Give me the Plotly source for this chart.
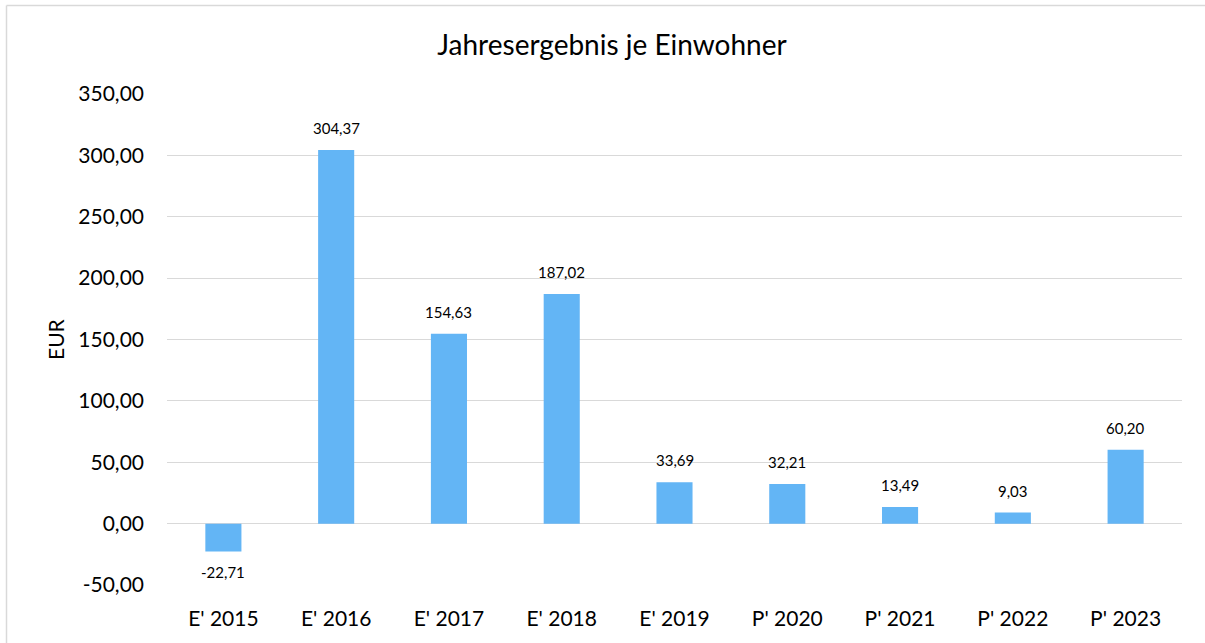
import plotly.graph_objects as go

categories = ["E' 2015", "E' 2016", "E' 2017", "E' 2018", "E' 2019", "P' 2020", "P' 2021", "P' 2022", "P' 2023"]
values = [-22.71, 304.37, 154.63, 187.02, 33.69, 32.21, 13.49, 9.03, 60.20]
tick_vals = [-50, 0, 50, 100, 150, 200, 250, 300, 350]
tick_text = ["-50,00", "0,00", "50,00", "100,00", "150,00", "200,00", "250,00", "300,00", "350,00"]

W, H = 1205, 643
# plot area in page pixels: x 167..1182, y 94..585
L, T = 167, 94
R = W - 1182
B = H - 585
pw = W - L - R
ph = H - T - B

font = "Lato, Carlito, 'Open Sans', sans-serif"

fig = go.Figure(go.Bar(
    x=categories, y=values,
    marker=dict(color="#63B5F5", line=dict(width=0)),
    width=0.32,
    cliponaxis=False,
    hoverinfo="x+y",
))

def fx(p):  # page px -> paper x
    return (p - L) / pw

def fy(p):  # page px -> paper y
    return (H - B - p) / ph

label_anns = [
    dict(x=c, y=v, xref="x", yref="y", text=f"{v:.2f}".replace(".", ","),
         showarrow=False, xanchor="center", yanchor="middle",
         yshift=22 if v >= 0 else -20, font=dict(size=15, color="#000000"))
    for c, v in zip(categories, values)
]

fig.update_layout(
    width=W, height=H,
    margin=dict(l=L, r=R, t=T, b=B),
    paper_bgcolor="white", plot_bgcolor="white",
    font=dict(family=font, color="#000000"),
    title=dict(text="Jahresergebnis je Einwohner", x=fx(612), xanchor="center",
               xref="paper", y=1 - 45 / H, yanchor="middle",
               font=dict(size=28, family=font)),
    showlegend=False,
    xaxis=dict(showgrid=False, showline=False, ticks="", tickfont=dict(size=21),
               ticklabelstandoff=19, fixedrange=True),
    yaxis=dict(range=[-50, 350], tickvals=tick_vals, ticktext=tick_text,
               showgrid=True, gridcolor="#D9D9D9", gridwidth=1.3,
               zeroline=True, zerolinecolor="#D9D9D9", zerolinewidth=1.3,
               showline=False, ticks="", tickfont=dict(size=21), ticklabelstandoff=22,
               fixedrange=True),
    annotations=label_anns + [
        dict(text="EUR", xref="paper", yref="paper",
             x=fx(55), y=fy(339), textangle=-90, showarrow=False,
             xanchor="center", yanchor="middle", font=dict(size=21))],
    shapes=[
        dict(type="line", xref="paper", yref="paper",
             x0=fx(6.5), x1=fx(6.5), y0=fy(5.5), y1=fy(643),
             line=dict(color="#D9D9D9", width=1.5), layer="above"),
        dict(type="line", xref="paper", yref="paper",
             x0=fx(6.5), x1=fx(1205), y0=fy(5.5), y1=fy(5.5),
             line=dict(color="#D9D9D9", width=1.5), layer="above"),
    ],
)

fig.write_html("out.html", config={"displayModeBar": False},
               post_script="document.body.style.margin='0';")
